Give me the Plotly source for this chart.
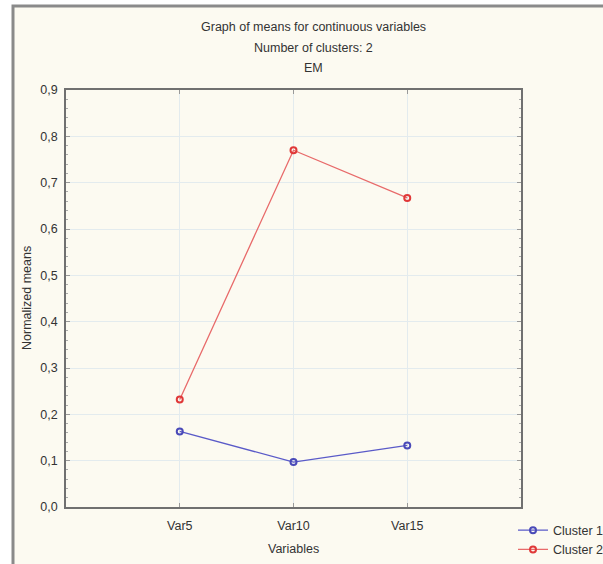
import plotly.graph_objects as go

categories = ["Var5", "Var10", "Var15"]
cluster1 = [0.163, 0.097, 0.133]
cluster2 = [0.232, 0.770, 0.667]
series_names = ["Cluster 1", "Cluster 2"]
title_lines = ["Graph of means for continuous variables", "Number of clusters: 2", "EM"]

W, H = 603, 564
L, R, T, B = 66, 82, 90, 57
pw, ph = W - L - R, H - T - B

def px(x):
    return (x - L) / pw

def py(y):
    return (H - B - y) / ph

FONT = "Liberation Sans, Arial, sans-serif"
TXT = "#333333"
xpos = list(range(1, len(categories) + 1))

fig = go.Figure()
fig.add_trace(go.Scatter(x=xpos, y=cluster1, name=series_names[0], mode="lines+markers",
                         line=dict(color="#5a5ac8", width=1.3),
                         marker=dict(symbol="circle-open", size=6, color="#4a4ab8", line=dict(width=2))))
fig.add_trace(go.Scatter(x=xpos, y=cluster2, name=series_names[1], mode="lines+markers",
                         line=dict(color="#e86a6a", width=1.3),
                         marker=dict(symbol="circle-open", size=6, color="#e03838", line=dict(width=2))))

ys = [27, 48, 68]
for t, yy in zip(title_lines, ys):
    fig.add_annotation(text=t, x=px(313), y=py(yy), xref="paper", yref="paper",
                       showarrow=False, font=dict(family=FONT, size=12.5, color=TXT),
                       xanchor="center", yanchor="middle")

fig.add_annotation(text="Variables", x=px(293), y=py(549), xref="paper", yref="paper",
                   showarrow=False, font=dict(family=FONT, size=12.5, color=TXT),
                   xanchor="center", yanchor="middle")
fig.add_annotation(text="Normalized means", x=px(27), y=py(298), xref="paper", yref="paper",
                   showarrow=False, textangle=-90, font=dict(family=FONT, size=12.5, color=TXT),
                   xanchor="center", yanchor="middle")

# outer frame
fig.add_shape(type="rect", xref="paper", yref="paper", x0=px(13), x1=px(640), y0=py(600), y1=py(6),
              fillcolor="#fcfaf1", line=dict(color="#8a8a8a", width=3), layer="below")

fig.update_layout(
    width=W, height=H, margin=dict(l=L, r=R, t=T, b=B, autoexpand=False),
    paper_bgcolor="white", plot_bgcolor="white",
    separators=", ",
    font=dict(family=FONT, size=12, color=TXT),
    showlegend=True,
    legend=dict(xref="container", yref="container", x=513 / W, y=1 - 515.5 / H,
                xanchor="left", yanchor="top", bgcolor="rgba(0,0,0,0)",
                font=dict(family=FONT, size=12.5, color=TXT), itemwidth=30, tracegroupgap=0),
)
fig.update_xaxes(range=[0, len(categories) + 1], tickvals=xpos, ticktext=categories,
                 showgrid=True, gridcolor="#e3ebee", gridwidth=1,
                 showline=True, linecolor="#707070", linewidth=1.5, mirror="ticks",
                 ticks="inside", ticklen=4, tickcolor="#999999", zeroline=False,
                 ticklabelstandoff=6, tickfont=dict(family=FONT, size=12.5, color=TXT))
fig.update_yaxes(range=[0, 0.9], dtick=0.1, tick0=0, tickformat=".1f",
                 showgrid=True, gridcolor="#e3ebee", gridwidth=1,
                 showline=True, linecolor="#707070", linewidth=1.5, mirror="ticks",
                 ticks="inside", ticklen=4, tickcolor="#999999", zeroline=False,
                 minor=dict(dtick=0.02, ticks="inside", ticklen=2, tickcolor="#aaaaaa", showgrid=False),
                 ticklabelstandoff=4, tickfont=dict(family=FONT, size=12.5, color=TXT))

fig.write_html("out.html")
